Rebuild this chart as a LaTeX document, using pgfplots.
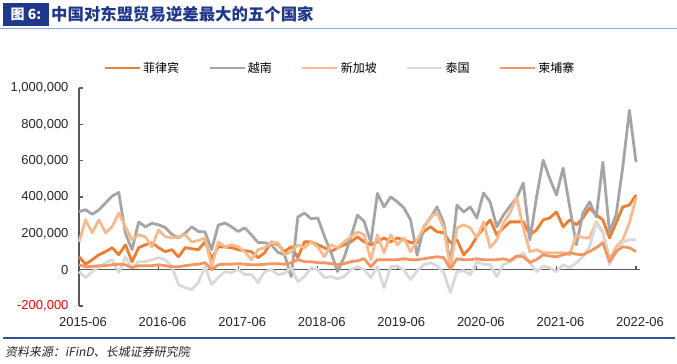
\documentclass[border=0pt]{standalone}
\usepackage{fontspec}
\setmainfont{Liberation Sans}
\newfontfamily\cjk{Noto Sans CJK SC}
\newfontfamily\cjkit[FakeSlant=0.18]{Noto Sans CJK SC}
\usepackage{pgfplots}
\pgfplotsset{compat=1.18}
\usepackage{pgfplotstable}
\definecolor{phil}{RGB}{237,125,49}
\definecolor{viet}{RGB}{165,165,165}
\definecolor{sing}{RGB}{247,186,142}
\definecolor{thai}{RGB}{217,217,217}
\definecolor{camb}{RGB}{242,150,98}
\definecolor{axisgray}{RGB}{89,89,89}
\definecolor{titleblue}{RGB}{32,56,140}
\definecolor{linebluedark}{RGB}{47,85,151}
\definecolor{linebluelight}{RGB}{143,170,220}
\pgfplotstableread{
i phil viet sing thai camb
0 71 319 153 -11 27
1 30 330 274 -44 16
2 55 305 203 -11 18
3 82 329 274 16 22
4 99 367 203 38 22
5 121 405 236 55 27
6 82 425 312 -16 30
7 137 200 236 71 27
8 44 110 164 11 11
9 121 263 192 44 22
10 137 236 181 44 22
11 148 255 126 55 22
12 121 247 219 66 27
13 99 232 181 55 22
14 110 195 175 16 16
15 71 175 181 -82 16
16 121 200 192 -99 22
17 115 236 153 -110 27
18 110 210 160 -71 30
19 153 208 175 16 38
20 60 110 16 -82 0
21 126 245 153 -44 27
22 125 257 126 -11 30
23 121 236 137 -16 30
24 110 210 126 0 33
25 105 230 99 -27 30
26 99 192 55 -27 27
27 66 150 110 -71 27
28 93 148 121 -11 30
29 153 137 148 0 33
30 137 95 148 -27 33
31 99 82 82 -20 30
32 126 -38 99 11 38
33 66 290 137 -66 55
34 153 312 121 -38 44
35 153 280 153 11 44
36 137 285 126 0 38
37 121 185 71 -44 38
38 99 95 137 -38 33
39 121 -10 121 -50 27
40 137 70 153 -38 33
41 153 180 181 0 44
42 181 300 208 16 49
43 153 265 192 0 60
44 137 150 55 -44 16
45 153 420 192 16 55
46 175 345 93 -99 55
47 153 400 192 16 55
48 175 374 137 20 55
49 164 340 175 0 60
50 150 274 99 -55 55
51 148 80 164 -5 55
52 210 236 230 27 60
53 236 285 290 38 66
54 208 345 312 20 71
55 203 257 230 -16 66
56 148 30 11 -126 5
57 164 356 230 -11 60
58 82 318 247 -5 55
59 121 345 230 -27 55
60 181 285 175 44 60
61 230 422 263 30 55
62 274 373 121 27 55
63 192 236 164 -38 55
64 230 300 257 27 60
65 263 350 312 44 50
66 263 395 400 66 75
67 263 477 230 93 71
68 192 164 99 38 40
69 219 400 110 -11 55
70 274 603 93 20 82
71 285 500 93 10 75
72 318 411 93 -11 71
73 236 559 93 27 82
74 274 345 82 11 93
75 247 137 192 38 85
76 285 312 175 71 82
77 340 373 175 126 100
78 301 290 263 257 121
79 274 592 208 203 148
80 175 208 55 27 44
81 257 301 126 99 100
82 345 564 164 153 126
83 356 877 257 164 121
84 411 592 395 164 99
}\data
\begin{document}
\begin{tikzpicture}
\useasboundingbox (0,0) rectangle (677bp,364bp);
\fill[white] (0,0) rectangle (677bp,364bp);
% title
\fill[titleblue] (3bp,338bp) rectangle (49bp,361bp);
\node[anchor=center, text=white, font=\fontsize{14bp}{16bp}\selectfont\cjk\bfseries] at (26bp,349.5bp) {图 6:};
\node[anchor=west, text=titleblue, inner sep=0pt, font=\fontsize{16.4bp}{18bp}\selectfont\cjk\bfseries] at (51bp,349.5bp) {中国对东盟贸易逆差最大的五个国家};
\draw[linebluelight, line width=1bp] (0bp,335.5bp) -- (677bp,335.5bp);
% bottom
\draw[linebluedark, line width=2bp] (3bp,26bp) -- (675bp,26bp);
\node[anchor=west, inner sep=0pt, text=black!85, font=\fontsize{12bp}{14bp}\selectfont\cjkit] at (5bp,12bp) {资料来源：iFinD、长城证券研究院};
\begin{axis}[
  at={(79bp,58bp)}, anchor=south west,
  scale only axis, width=561bp, height=218bp,
  xmin=0, xmax=84.6, ymin=-200, ymax=1000,
  axis lines*=left,
  x axis line style={draw=none},
  y axis line style={axisgray, line width=1.2bp},
  xtick={0,12,...,84},
  xticklabels={2015-06,2016-06,2017-06,2018-06,2019-06,2020-06,2021-06,2022-06},
  xtick style={draw=none},
  xticklabel style={xshift=4bp, yshift=-8bp},
  ytick={-200,0,200,400,600,800,1000},
  yticklabels={{\textcolor{red}{-200,000}},0,{200,000},{400,000},{600,000},{800,000},{1,000,000}},
  ytick style={axisgray, line width=1.2bp},
  major tick length=4bp,
  tick align=inside,
  yticklabel style={xshift=-7bp},
  tick label style={font=\fontsize{13bp}{15bp}\selectfont, text=black!85},
  clip=false,
  legend columns=5,
  legend style={draw=none, fill=none, at={(0.465,1.092)}, anchor=center,
    font=\fontsize{12bp}{14bp}\selectfont\cjk,
    /tikz/every even column/.append style={column sep=27bp},
    nodes={inner sep=2bp}},
  legend image code/.code={\draw[#1] (0bp,0bp) -- (35bp,0bp);},
  every axis plot/.append style={line width=2.8bp, line join=round},
]
\draw[axisgray, line width=1.5bp] (axis cs:0,0) -- (axis cs:84.6,0);
\pgfplotsinvokeforeach{12,24,36,48,60,72,84}{\draw[axisgray, line width=1.2bp] (axis cs:#1,0) -- ++(0bp,4bp);}
\addplot[phil] table[x=i,y=phil]{\data};
\addlegendentry{菲律宾}
\addplot[viet] table[x=i,y=viet]{\data};
\addlegendentry{越南}
\addplot[sing] table[x=i,y=sing]{\data};
\addlegendentry{新加坡}
\addplot[thai] table[x=i,y=thai]{\data};
\addlegendentry{泰国}
\addplot[camb] table[x=i,y=camb]{\data};
\addlegendentry{柬埔寨}
\end{axis}
\end{tikzpicture}
\end{document}
